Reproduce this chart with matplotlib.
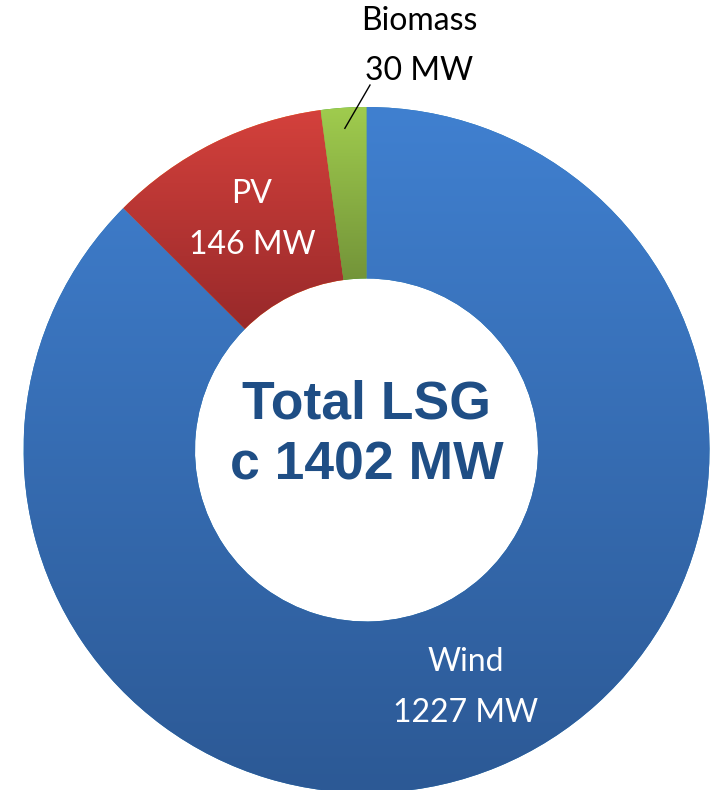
import numpy as np
import matplotlib
matplotlib.use("Agg")
import matplotlib.pyplot as plt
from matplotlib.colors import LinearSegmentedColormap

# Installed capacity (MW)
sources = ["Wind", "PV", "Biomass"]
capacity = [1227, 146, 30]
label_text = ["Wind\n1227 MW", "PV\n146 MW", "Biomass\n30 MW"]
center_text = "Total LSG\nc 1402 MW"

# (top colour, bottom colour) for the shaded wedges
shades = [("#4080D0", "#2C5995"), ("#D4413C", "#98292A"), ("#A0CC4E", "#739439")]

W, H = 715, 790
fig = plt.figure(figsize=(W / 100, H / 100), dpi=100)
ax = fig.add_axes([0, 0, 1, 1])
ax.set_xlim(0, W)
ax.set_ylim(0, H)
ax.set_aspect("equal")
ax.axis("off")

cx, cy, R = 366.5, H - 450, 343
wedges, _ = ax.pie(capacity, startangle=90, counterclock=False, center=(cx, cy),
                   radius=R, frame=True, wedgeprops=dict(width=R * 0.5, linewidth=0))

# vertical gradient fill inside each wedge
for w, (top, bot) in zip(wedges, shades):
    ext = w.get_path().get_extents()
    cmap = LinearSegmentedColormap.from_list("g", [bot, top])
    grad = np.linspace(0, 1, 256).reshape(-1, 1)
    im = ax.imshow(grad, cmap=cmap, origin="lower", aspect="auto",
                   extent=[ext.x0, ext.x1, ext.y0, ext.y1], zorder=2)
    im.set_clip_path(w)

ax.set_xlim(0, W)
ax.set_ylim(0, H)
ax.axis("off")

# labels inside the ring
for w, txt in zip(wedges[:2], label_text[:2]):
    ang = np.deg2rad((w.theta1 + w.theta2) / 2)
    r = R * 0.75
    ax.text(cx + r * np.cos(ang), cy + r * np.sin(ang), txt, color="white",
            fontsize=23, family="Lato", ha="center", va="center",
            linespacing=1.85, zorder=3)

# Biomass label outside with leader line
w = wedges[2]
ang = np.deg2rad((w.theta1 + w.theta2) / 2)
p0 = (cx + R * 0.94 * np.cos(ang), cy + R * 0.94 * np.sin(ang))
p1 = (cx + 3.5, cy + R * 1.064)
ax.plot([p0[0], p1[0]], [p0[1], p1[1]], color="black", lw=1, zorder=3)
ax.text(cx + 53, cy + 404, label_text[2], color="black", fontsize=23, family="Lato",
        ha="center", va="center", linespacing=1.85, zorder=3)

ax.text(cx, cy + 15, center_text, color="#1F4E85", fontsize=38.5, fontweight="bold",
        family="Liberation Sans", ha="center", va="center", linespacing=1.3, zorder=3)

fig.savefig("out.png", dpi=100)
